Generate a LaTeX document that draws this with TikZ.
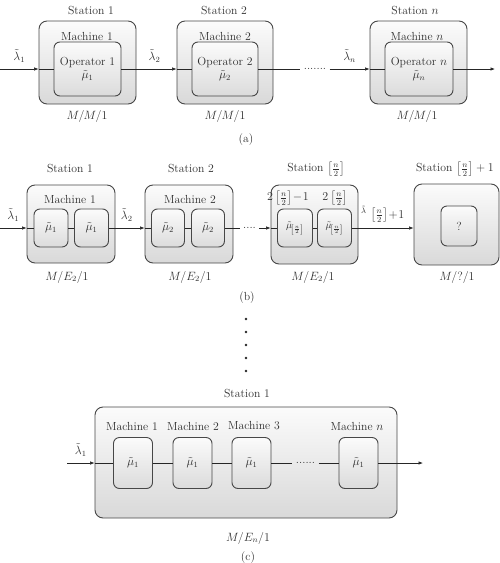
\documentclass[tikz,border=0pt]{standalone}
\usepackage{amsmath,amssymb}
\usepackage{tikz}
\usetikzlibrary{arrows.meta}

\begin{document}
\begin{tikzpicture}[x=1pt,y=-1pt,
        font=\fontsize{11.7}{13.5}\selectfont, text=black!82,
        station/.style={draw=black!72, line width=0.9pt, rounded corners=8pt,
            top color=gray!3, bottom color=gray!30, inner sep=0pt},
        server/.style={draw=black!72, line width=0.9pt, rounded corners=6pt,
            top color=gray!3, bottom color=gray!28, inner sep=0pt, align=center},
        flow/.style={draw=black!85, line width=0.65pt, -{Latex[length=4.5pt,width=3.5pt]}},
        link/.style={draw=black!85, line width=0.65pt}]

                \useasboundingbox (0,0) rectangle (500,563);

                % (a) M/M/1 stations
                \node[station, minimum width=97pt, minimum height=83pt] (sa1) at (87.5,62.5) {};
                \node[server, minimum width=67pt, minimum height=54pt] (oa1) at (87.5,69) {Operator 1\\$\tilde{\mu}_1$};
                \node[station, minimum width=96pt, minimum height=83pt] (sa2) at (225,62.5) {};
                \node[server, minimum width=66pt, minimum height=54pt] (oa2) at (225,69) {Operator 2\\$\tilde{\mu}_2$};
                \node[station, minimum width=97pt, minimum height=83pt] (san) at (418.5,62.5) {};
                \node[server, minimum width=68pt, minimum height=54pt] (oan) at (419,69) {Operator $n$\\$\tilde{\mu}_n$};
                \node (da) at (315,69) {.......};

                \node at (91,11) {Station 1};
                \node at (224,11) {Station 2};
                \node at (415,11) {Station $n$};
                \node at (87,36) {Machine 1};
                \node at (225,36) {Machine 2};
                \node at (417,36) {Machine $n$};
                \node at (87,116) {$M/M/1$};
                \node at (225,116) {$M/M/1$};
                \node at (417,116) {$M/M/1$};
                \node at (246,140) {(a)};

                \coordinate (ina) at (0,69);
                \coordinate (outa) at (495,69);
                \draw[flow] (ina) -- (sa1.west |- oa1.west) node[midway, above=3pt] {$\tilde{\lambda}_1$};
                \draw[link] (sa1.west |- oa1.west) -- (oa1.west);
                \draw[flow] (oa1.east) -- (sa2.west |- oa2.west) node[pos=0.6, above=3pt] {$\tilde{\lambda}_2$};
                \draw[link] (sa2.west |- oa2.west) -- (oa2.west);
                \draw[link] (oa2.east) -- (da.west);
                \draw[flow] (da.east) -- (san.west |- oan.west) node[midway, above=3pt] {$\tilde{\lambda}_n$};
                \draw[link] (san.west |- oan.west) -- (oan.west);
                \draw[flow] (oan.east) -- (outa);

                % (b) M/E_2/1 stations
                \node[station, minimum width=88pt, minimum height=78pt] (sb1) at (71,224) {};
                \node[server, minimum width=34pt, minimum height=38pt] (ob1) at (51,228) {$\tilde{\mu}_1$};
                \node[server, minimum width=34pt, minimum height=38pt] (ob2) at (91.5,228) {$\tilde{\mu}_1$};
                \node[station, minimum width=88pt, minimum height=78pt] (sb2) at (189,224) {};
                \node[server, minimum width=33pt, minimum height=38pt] (ob3) at (168,228) {$\tilde{\mu}_2$};
                \node[server, minimum width=33pt, minimum height=38pt] (ob4) at (208,228) {$\tilde{\mu}_2$};
                \node[station, minimum width=87pt, minimum height=79pt] (sbh) at (314.5,224.5) {};
                \node[server, minimum width=35pt, minimum height=38pt, font=\fontsize{10}{12}\selectfont] (ob5) at (295,228) {$\tilde{\mu}_{\!\left[\frac{n}{2}\right]}$};
                \node[server, minimum width=34pt, minimum height=38pt, font=\fontsize{10}{12}\selectfont] (ob6) at (334.5,228) {$\tilde{\mu}_{\!\left[\frac{n}{2}\right]}$};
                \node[station, minimum width=85pt, minimum height=81pt] (sbq) at (456.5,224.5) {};
                \node[server, minimum width=36pt, minimum height=40pt] (obq) at (459,226) {?};
                \node (db) at (249.5,228) {....};

                \node at (70,169) {Station 1};
                \node at (191,169) {Station 2};
                \node at (316,169) {Station $\left[\frac{n}{2}\right]$};
                \node at (455,169) {Station $\left[\frac{n}{2}\right]+1$};
                \node at (70,199) {Machine 1};
                \node at (190,199) {Machine 2};
                \node at (288,198) {$2\left[\frac{n}{2}\right]\!-\!1$};
                \node at (335,198) {$2\left[\frac{n}{2}\right]$};
                \node at (67,277) {$M/E_2/1$};
                \node at (190,277) {$M/E_2/1$};
                \node at (313,277) {$M/E_2/1$};
                \node at (457,277) {$M/?/1$};
                \node at (247,298) {(b)};

                \coordinate (inb) at (0,228);
                \draw[flow] (inb) -- (sb1.west |- ob1.west) node[midway, above=3pt] {$\tilde{\lambda}_1$};
                \draw[link] (sb1.west |- ob1.west) -- (ob1.west);
                \draw[link] (ob1.east) -- (ob2.west);
                \draw[flow] (ob2.east) -- (sb2.west |- ob3.west) node[midway, above=3pt] {$\tilde{\lambda}_2$};
                \draw[link] (sb2.west |- ob3.west) -- (ob3.west);
                \draw[link] (ob3.east) -- (ob4.west);
                \draw[link] (ob4.east) -- (db.west);
                \draw[flow] (db.east) -- (sbh.west |- ob5.west);
                \draw[link] (sbh.west |- ob5.west) -- (ob5.west);
                \draw[link] (ob5.east) -- (ob6.west);
                \draw[flow] (ob6.east) -- (sbq.west |- ob6.east)
                    node[midway, above=2pt] {${}^{\tilde{\lambda}}\,\left[\frac{n}{2}\right]\!+\!1$};

                % vertical dots
                \foreach \k in {0,...,4}
                    \fill[black!85] (246,319+13*\k) circle (1.3pt);

                % (c) M/E_n/1 station
                \node[station, minimum width=302pt, minimum height=111pt] (sc) at (246,462.5) {};
                \node[server, minimum width=39pt, minimum height=51pt] (oc1) at (133,463) {$\tilde{\mu}_1$};
                \node[server, minimum width=39pt, minimum height=51pt] (oc2) at (192.5,463) {$\tilde{\mu}_1$};
                \node[server, minimum width=39pt, minimum height=51pt] (oc3) at (251.5,463) {$\tilde{\mu}_1$};
                \node[server, minimum width=39pt, minimum height=51pt] (ocn) at (358.5,463) {$\tilde{\mu}_1$};
                \node (dc) at (305.5,463) {......};

                \node at (247,393) {Station 1};
                \node at (132,426) {Machine 1};
                \node at (193,426) {Machine 2};
                \node at (254,426) {Machine 3};
                \node at (357,426) {Machine $n$};
                \node at (248,538) {$M/E_n/1$};
                \node at (248,558) {(c)};

                \coordinate (inc) at (67,463);
                \coordinate (outc) at (423,463);
                \draw[flow] (inc) -- (sc.west |- oc1.west) node[midway, above=3pt] {$\tilde{\lambda}_1$};
                \draw[link] (sc.west |- oc1.west) -- (oc1.west);
                \draw[link] (oc1.east) -- (oc2.west);
                \draw[link] (oc2.east) -- (oc3.west);
                \draw[link] (oc3.east) -- (dc.west);
                \draw[link] (dc.east) -- (ocn.west);
                \draw[flow] (ocn.east) -- (outc);

\end{tikzpicture}
\end{document}
